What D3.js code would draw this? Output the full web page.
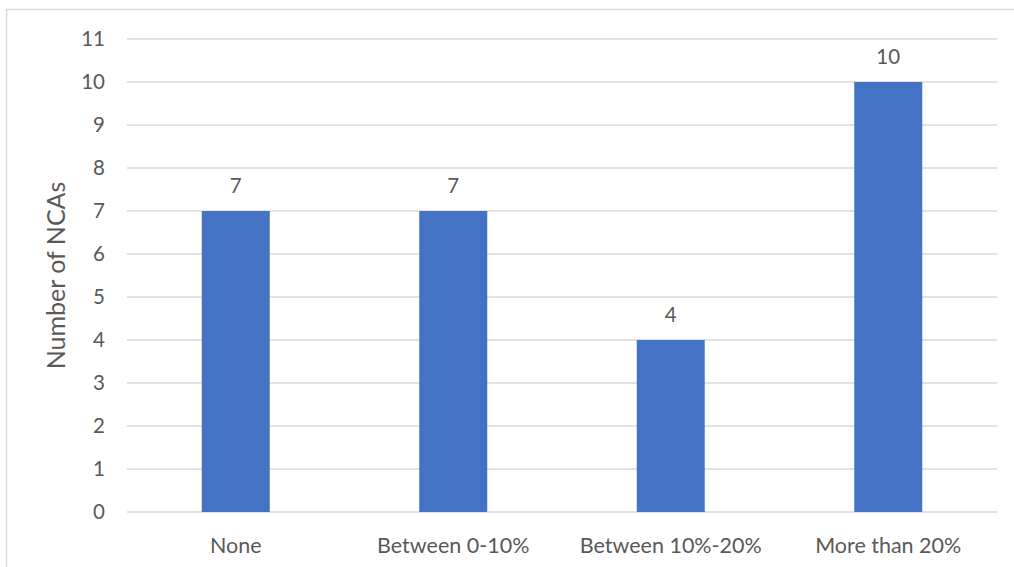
<!DOCTYPE html>
<html>
<head>
<meta charset="utf-8">
<script src="https://cdn.jsdelivr.net/npm/d3@7"></script>
<style>
  html, body { margin: 0; padding: 0; background: #fff; }
  svg text { font-family: Lato, "Open Sans", sans-serif; fill: #595959; }
</style>
</head>
<body>
<svg id="chart" width="1014" height="567"></svg>
<script>
const categories = ["None", "Between 0-10%", "Between 10%-20%", "More than 20%"];
const counts = [7, 7, 4, 10];
const yTicks = [0, 1, 2, 3, 4, 5, 6, 7, 8, 9, 10, 11];
const yTitle = "Number of NCAs";

const svg = d3.select("#chart");
const W = 1014, H = 567;
const plot = { left: 127, right: 997, top: 39, bottom: 512 };

// chart frame
svg.append("rect")
  .attr("x", 6.5).attr("y", 9.5)
  .attr("width", W + 10).attr("height", H + 10)
  .attr("fill", "none").attr("stroke", "#d9d9d9").attr("stroke-width", 1.5);

const x = d3.scaleBand().domain(categories).range([plot.left, plot.right]).paddingInner(0).paddingOuter(0);
const y = d3.scaleLinear().domain([0, 11]).range([plot.bottom, plot.top]);

// gridlines
svg.append("g").selectAll("line").data(yTicks).join("line")
  .attr("x1", plot.left).attr("x2", plot.right)
  .attr("y1", d => y(d)).attr("y2", d => y(d))
  .attr("stroke", "#d9d9d9").attr("stroke-width", 1.3);

// y tick labels
const yAxis = d3.axisLeft(y).tickValues(yTicks).tickSize(0).tickPadding(0);
const gy = svg.append("g").attr("transform", `translate(${plot.left - 22},0)`).call(yAxis);
gy.select(".domain").remove();
gy.selectAll("text").attr("font-size", 20.5).attr("fill", "#595959").style("font-family", "Lato, 'Open Sans', sans-serif");

// bars
const barW = 68;
svg.append("g").selectAll("rect").data(categories).join("rect")
  .attr("x", d => x(d) + x.bandwidth() / 2 - barW / 2)
  .attr("width", barW)
  .attr("y", (d, i) => y(counts[i]))
  .attr("height", (d, i) => y(0) - y(counts[i]))
  .attr("fill", "#4472c4");

// value labels
svg.append("g").selectAll("text").data(categories).join("text")
  .attr("x", d => x(d) + x.bandwidth() / 2)
  .attr("y", (d, i) => y(counts[i]) - 18)
  .attr("text-anchor", "middle")
  .attr("font-size", 20.5)
  .attr("fill", "#404040")
  .text((d, i) => counts[i]);

// category labels
svg.append("g").selectAll("text").data(categories).join("text")
  .attr("x", d => x(d) + x.bandwidth() / 2)
  .attr("y", 553)
  .attr("text-anchor", "middle")
  .attr("font-size", 21.5)
  .text(d => d);

// y axis title
svg.append("text")
  .attr("transform", `translate(65,${(plot.top + plot.bottom) / 2}) rotate(-90)`)
  .attr("text-anchor", "middle")
  .attr("font-size", 25)
  .text(yTitle);
</script>
</body>
</html>
